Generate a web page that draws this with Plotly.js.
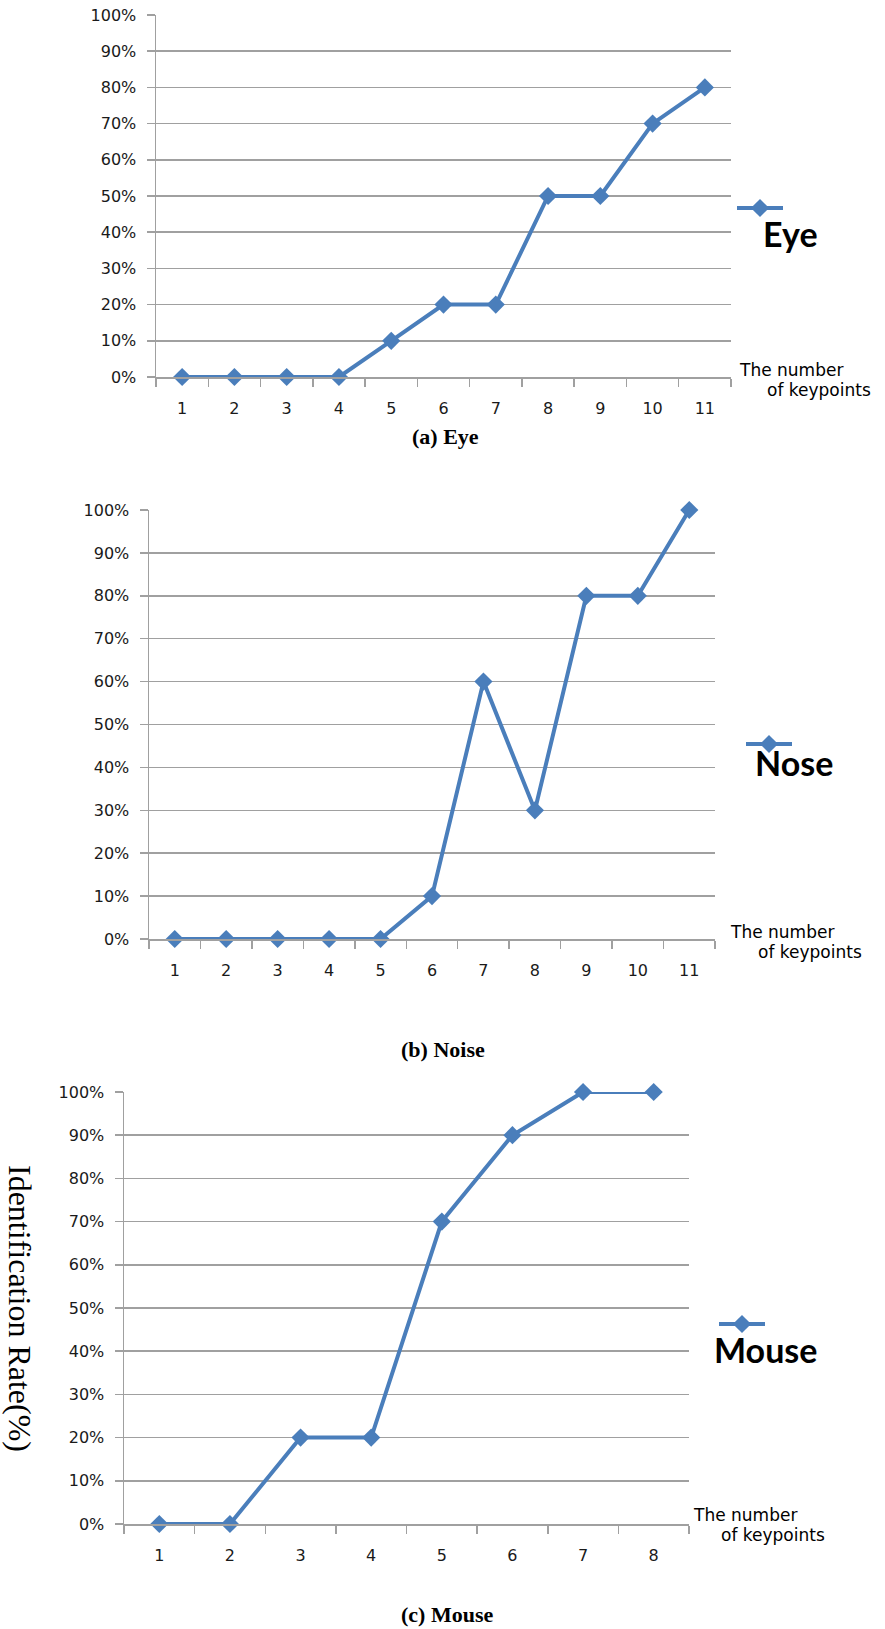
<!DOCTYPE html>
<html>
<head>
<meta charset="utf-8">
<script src="https://cdn.plot.ly/plotly-3.0.1.min.js"></script>
<style>html,body{margin:0;padding:0;background:#fff;}#chart{width:885px;height:1629px;}</style>
</head>
<body>
<div id="chart"></div>
<script>
// ---- data ----
const eyeCategories = ['1','2','3','4','5','6','7','8','9','10','11'];
const eyeValues = [0,0,0,0,10,20,20,50,50,70,80];
const noseCategories = ['1','2','3','4','5','6','7','8','9','10','11'];
const noseValues = [0,0,0,0,0,10,60,30,80,80,100];
const mouseCategories = ['1','2','3','4','5','6','7','8'];
const mouseValues = [0,0,20,20,70,90,100,100];
const seriesNames = ['Eye','Nose','Mouse'];
const captions = ['(a) Eye','(b) Noise','(c) Mouse'];
const xAxisTitle = ['The number','of keypoints'];
const yAxisTitle = 'Identification Rate(%)';

// ---- layout helpers ----
const W = 885, H = 1629;
const px = v => v / W;
const py = v => 1 - v / H;
const LINE = '#4a7ebb';
const GRID = '#a0a0a0';
const tickFont = {family: 'DejaVu Sans', size: 16, color: '#1a1a1a'};

function mkTrace(cats, vals, name, idx) {
  const s = idx === 0 ? '' : String(idx + 1);
  return {
    x: cats, y: vals, name: '\u00a0', type: 'scatter', mode: 'lines+markers',
    xaxis: 'x' + s, yaxis: 'y' + s, legend: 'legend' + s,
    line: {color: LINE, width: 4},
    marker: {symbol: 'diamond', size: 14, color: LINE},
    cliponaxis: false, hoverinfo: 'x+y'
  };
}
function xAx(dom, anchor, n) {
  return {domain: dom, anchor: anchor, type: 'category', range: [-0.5, n - 0.5],
    tickson: 'boundaries', ticks: 'outside', ticklen: 8, tickwidth: 1.5, tickcolor: GRID,
    showline: true, linecolor: GRID, linewidth: 1.5, showgrid: false, zeroline: false,
    tickfont: tickFont, ticklabelstandoff: 16, fixedrange: true};
}
function yAx(dom, anchor) {
  return {domain: dom, anchor: anchor, range: [0, 100], dtick: 10, ticksuffix: '%',
    ticks: 'outside', ticklen: 8, tickwidth: 1.5, tickcolor: GRID,
    showline: true, linecolor: GRID, linewidth: 1.5, showgrid: true, gridcolor: GRID, gridwidth: 1.5,
    zeroline: false, tickfont: tickFont, ticklabelstandoff: 7, fixedrange: true};
}

const data = [
  mkTrace(eyeCategories, eyeValues, seriesNames[0], 0),
  mkTrace(noseCategories, noseValues, seriesNames[1], 1),
  mkTrace(mouseCategories, mouseValues, seriesNames[2], 2)
];

function legendAt(x, y) {
  return {x: px(x), y: py(y), xanchor: 'left', yanchor: 'middle', itemwidth: 46,
    bgcolor: 'rgba(0,0,0,0)', font: {size: 10}, itemclick: false, itemdoubleclick: false};
}

const ann = [];
const tf = {family: 'DejaVu Sans', size: 17, color: '#000'};
function axTitle(x, y) {
  ann.push({xref: 'paper', yref: 'paper', x: px(x), y: py(y), xanchor: 'left', yanchor: 'middle', text: xAxisTitle[0], showarrow: false, font: tf});
  ann.push({xref: 'paper', yref: 'paper', x: px(x + 28), y: py(y + 20), xanchor: 'left', yanchor: 'middle', text: xAxisTitle[1], showarrow: false, font: tf});
}
axTitle(737, 370);
axTitle(728, 932);
axTitle(691, 1515);
const lf = {family: 'Lato', size: 34, color: '#000', weight: 'bold'};
ann.push({xref: 'paper', yref: 'paper', x: px(761), y: py(234), xanchor: 'left', yanchor: 'middle', text: '<b>' + seriesNames[0] + '</b>', showarrow: false, font: lf});
ann.push({xref: 'paper', yref: 'paper', x: px(753), y: py(762), xanchor: 'left', yanchor: 'middle', text: '<b>' + seriesNames[1] + '</b>', showarrow: false, font: lf});
ann.push({xref: 'paper', yref: 'paper', x: px(712), y: py(1349), xanchor: 'left', yanchor: 'middle', text: '<b>' + seriesNames[2] + '</b>', showarrow: false, font: lf});
const cf = {family: 'Liberation Serif', size: 22, color: '#000'};
ann.push({xref: 'paper', yref: 'paper', x: px(445), y: py(436), xanchor: 'center', yanchor: 'middle', text: '<b>' + captions[0] + '</b>', showarrow: false, font: cf});
ann.push({xref: 'paper', yref: 'paper', x: px(443), y: py(1049), xanchor: 'center', yanchor: 'middle', text: '<b>' + captions[1] + '</b>', showarrow: false, font: cf});
ann.push({xref: 'paper', yref: 'paper', x: px(447), y: py(1614), xanchor: 'center', yanchor: 'middle', text: '<b>' + captions[2] + '</b>', showarrow: false, font: cf});
ann.push({xref: 'paper', yref: 'paper', x: px(20), y: py(1308), xanchor: 'center', yanchor: 'middle', text: yAxisTitle, textangle: 90, showarrow: false, font: {family: 'Liberation Serif', size: 32, color: '#000'}});

const layout = {
  width: W, height: H, margin: {l: 0, r: 0, t: 0, b: 0},
  paper_bgcolor: '#fff', plot_bgcolor: '#fff', showlegend: true,
  xaxis: xAx([px(156), px(731)], 'y', eyeCategories.length),
  yaxis: yAx([py(377), py(15)], 'x'),
  xaxis2: xAx([px(149), px(715)], 'y2', noseCategories.length),
  yaxis2: yAx([py(939), py(510)], 'x2'),
  xaxis3: xAx([px(124), px(689)], 'y3', mouseCategories.length),
  yaxis3: yAx([py(1524), py(1092)], 'x3'),
  legend: legendAt(732, 208),
  legend2: legendAt(741, 744),
  legend3: legendAt(714, 1324),
  annotations: ann
};
Plotly.newPlot('chart', data, layout, {displayModeBar: false, staticPlot: true});
</script>
</body>
</html>
